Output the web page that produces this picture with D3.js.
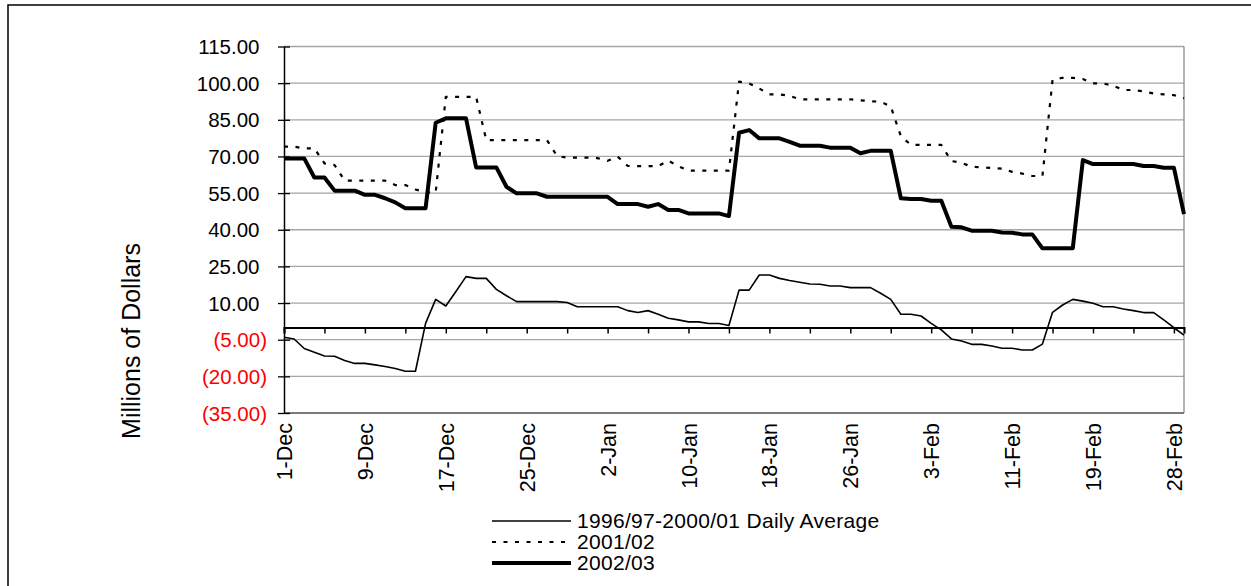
<!DOCTYPE html>
<html>
<head>
<meta charset="utf-8">
<script src="https://cdn.jsdelivr.net/npm/d3@7"></script>
<style>
  html, body { margin: 0; padding: 0; background: #fff; }
  svg { display: block; font-family: "Liberation Sans", Arial, sans-serif; }
</style>
</head>
<body>
<svg id="chart" width="1251" height="586"></svg>
<script>
// ---- data ----
const tickLabels = ["1-Dec","9-Dec","17-Dec","25-Dec","2-Jan","10-Jan","18-Jan","26-Jan","3-Feb","11-Feb","19-Feb","28-Feb"];
const tickIndex = [0,8,16,24,32,40,48,56,64,72,80,88];
const yTicks = [115,100,85,70,55,40,25,10,-5,-20,-35];

const avg9601 = [-4.0,-4.7,-8.6,-10.1,-11.7,-11.8,-13.5,-14.7,-14.7,-15.3,
  -16.0,-16.8,-17.9,-17.9,1.7,11.5,8.8,14.7,20.8,20.1,
  20.1,15.6,13.0,10.6,10.6,10.6,10.6,10.6,10.2,8.5,
  8.5,8.5,8.5,8.5,6.9,6.1,6.9,5.4,3.8,3.1,
  2.3,2.3,1.6,1.6,0.8,15.3,15.3,21.5,21.5,20.1,
  19.2,18.5,17.8,17.7,17.0,17.0,16.3,16.3,16.3,14.0,
  11.5,5.4,5.4,4.7,1.7,-1.0,-4.7,-5.5,-6.9,-6.9,
  -7.6,-8.5,-8.5,-9.2,-9.2,-6.8,6.2,9.2,11.5,10.8,
  9.9,8.5,8.5,7.6,6.9,6.1,6.1,3.1,-0.1,-3.1];

const s0102 = [74.0,74.0,73.3,73.3,67.2,66.5,60.1,60.1,60.1,60.1,
  60.1,58.3,58.3,56.5,55.3,55.3,94.4,94.4,94.4,94.4,
  76.7,76.7,76.7,76.7,76.7,76.7,76.7,70.2,69.5,69.5,
  69.5,69.3,68.2,69.9,66.1,66.0,66.0,66.0,68.3,66.0,
  64.2,64.2,64.2,64.2,64.2,100.6,99.9,97.8,95.4,95.4,
  94.8,93.4,93.4,93.4,93.4,93.4,93.4,93.0,92.6,92.4,
  90.5,78.3,74.7,74.7,74.7,74.7,68.1,67.4,65.8,65.5,
  65.3,65.0,63.7,63.0,62.0,62.0,101.3,102.2,102.2,101.7,
  99.9,99.9,99.0,97.2,97.2,96.6,95.8,95.4,95.1,93.8];

const s0203 = [69.2,69.2,69.2,61.4,61.4,56.0,56.0,56.0,54.3,54.3,
  52.9,51.2,48.8,48.8,48.8,83.8,85.6,85.6,85.6,65.5,
  65.5,65.5,57.6,54.9,54.9,54.9,53.5,53.5,53.5,53.5,
  53.5,53.5,53.5,50.5,50.5,50.5,49.4,50.5,48.1,48.1,
  46.7,46.7,46.7,46.7,45.6,79.7,80.8,77.4,77.4,77.4,
  76.0,74.4,74.4,74.4,73.6,73.6,73.6,71.3,72.3,72.3,
  72.3,52.9,52.6,52.6,51.9,51.9,41.2,41.0,39.6,39.6,
  39.6,38.9,38.8,38.1,38.1,32.4,32.4,32.4,32.4,68.5,
  66.9,66.9,66.9,66.9,66.9,66.1,66.1,65.4,65.4,46.4];

const seriesNames = ["1996/97-2000/01 Daily Average","2001/02","2002/03"];

// ---- layout ----
const svg = d3.select("#chart");
const L = 284, R = 1184, T = 46.5, B = 413;
const n = s0203.length;
const x = d3.scaleLinear().domain([0, n - 1]).range([L, R]);
const y = d3.scaleLinear().domain([-35, 115]).range([B, T]);
const FF = "Liberation Sans, Arial, sans-serif";

// outer frame
svg.append("rect").attr("x", 8).attr("y", 5).attr("width", 1400).attr("height", 800)
  .attr("fill", "none").attr("stroke", "#000").attr("stroke-width", 1.5);

// gridlines
svg.append("g").selectAll("line").data(yTicks).join("line")
  .attr("x1", L).attr("x2", R).attr("y1", d => y(d)).attr("y2", d => y(d))
  .attr("stroke", "#a6a6a6").attr("stroke-width", 1.3);

// right / bottom border
svg.append("line").attr("x1", R).attr("x2", R).attr("y1", T).attr("y2", B)
  .attr("stroke", "#8c8c8c").attr("stroke-width", 1.3);
svg.append("line").attr("x1", L).attr("x2", R).attr("y1", B).attr("y2", B)
  .attr("stroke", "#666").attr("stroke-width", 1.3);

// y axis
const yAxis = d3.axisLeft(y).tickValues(yTicks).tickSize(0).tickPadding(0)
  .tickFormat(d => d < 0 ? "(" + Math.abs(d).toFixed(2) + ")" : d.toFixed(2));
const gy = svg.append("g").attr("transform", `translate(${L},0)`).call(yAxis);
gy.select(".domain").attr("stroke", "#000").attr("stroke-width", 1.5);
gy.selectAll(".tick text")
  .attr("x", d => d < 0 ? -17 : -24.5)
  .attr("dy", "0.35em")
  .attr("font-size", 20.5)
  .attr("font-family", FF)
  .attr("fill", d => d < 0 ? "#ff0000" : "#000");
gy.selectAll(".tick").append("line").attr("x1", -6).attr("x2", 6)
  .attr("stroke", "#000").attr("stroke-width", 1.3);

// zero line with ticks
const xAxis = d3.axisBottom(x).tickValues(d3.range(0, n, 4)).tickSize(6).tickFormat("");
const gx = svg.append("g").attr("transform", `translate(0,${y(0)})`).call(xAxis);
gx.select(".domain").attr("stroke", "#000").attr("stroke-width", 2);
gx.selectAll(".tick line").attr("stroke", "#000").attr("stroke-width", 1.5);

// x labels at bottom (rotated)
const xLab = d3.axisBottom(x).tickValues(tickIndex).tickSize(0)
  .tickFormat((d, i) => tickLabels[i]);
const gxl = svg.append("g").attr("transform", `translate(0,${B})`).call(xLab);
gxl.select(".domain").remove();
gxl.selectAll(".tick text")
  .attr("transform", "rotate(-90)")
  .attr("x", -10).attr("y", 0).attr("dy", "0.35em")
  .attr("text-anchor", "end")
  .attr("font-size", 21.5)
  .attr("font-family", FF)
  .attr("fill", "#000");

// y title
svg.append("text")
  .attr("transform", `translate(131,341) rotate(-90)`)
  .attr("text-anchor", "middle").attr("dominant-baseline", "central")
  .attr("font-size", 25).attr("fill", "#000")
  .text("Millions of Dollars");

// lines
const line = d3.line().x((d, i) => x(i)).y(d => y(d));
const styles = [
  { data: avg9601, w: 1.6, dash: null },
  { data: s0102, w: 2.2, dash: "4,7.5" },
  { data: s0203, w: 4, dash: null }
];
styles.forEach(s => {
  svg.append("path").datum(s.data).attr("d", line)
    .attr("fill", "none").attr("stroke", "#000")
    .attr("stroke-width", s.w)
    .attr("stroke-linejoin", "round")
    .attr("stroke-dasharray", s.dash);
});

// legend
const lg = svg.append("g");
const rowsY = [521, 542, 563];
styles.forEach((s, i) => {
  lg.append("line").attr("x1", 492).attr("x2", 571)
    .attr("y1", rowsY[i]).attr("y2", rowsY[i])
    .attr("stroke", "#000").attr("stroke-width", s.w)
    .attr("stroke-dasharray", s.dash);
  lg.append("text").attr("x", 577).attr("y", rowsY[i]).attr("dy", "0.35em")
    .attr("font-size", 21).attr("fill", "#000")
    .attr("letter-spacing", 0.3)
    .text(seriesNames[i]);
});
</script>
</body>
</html>
